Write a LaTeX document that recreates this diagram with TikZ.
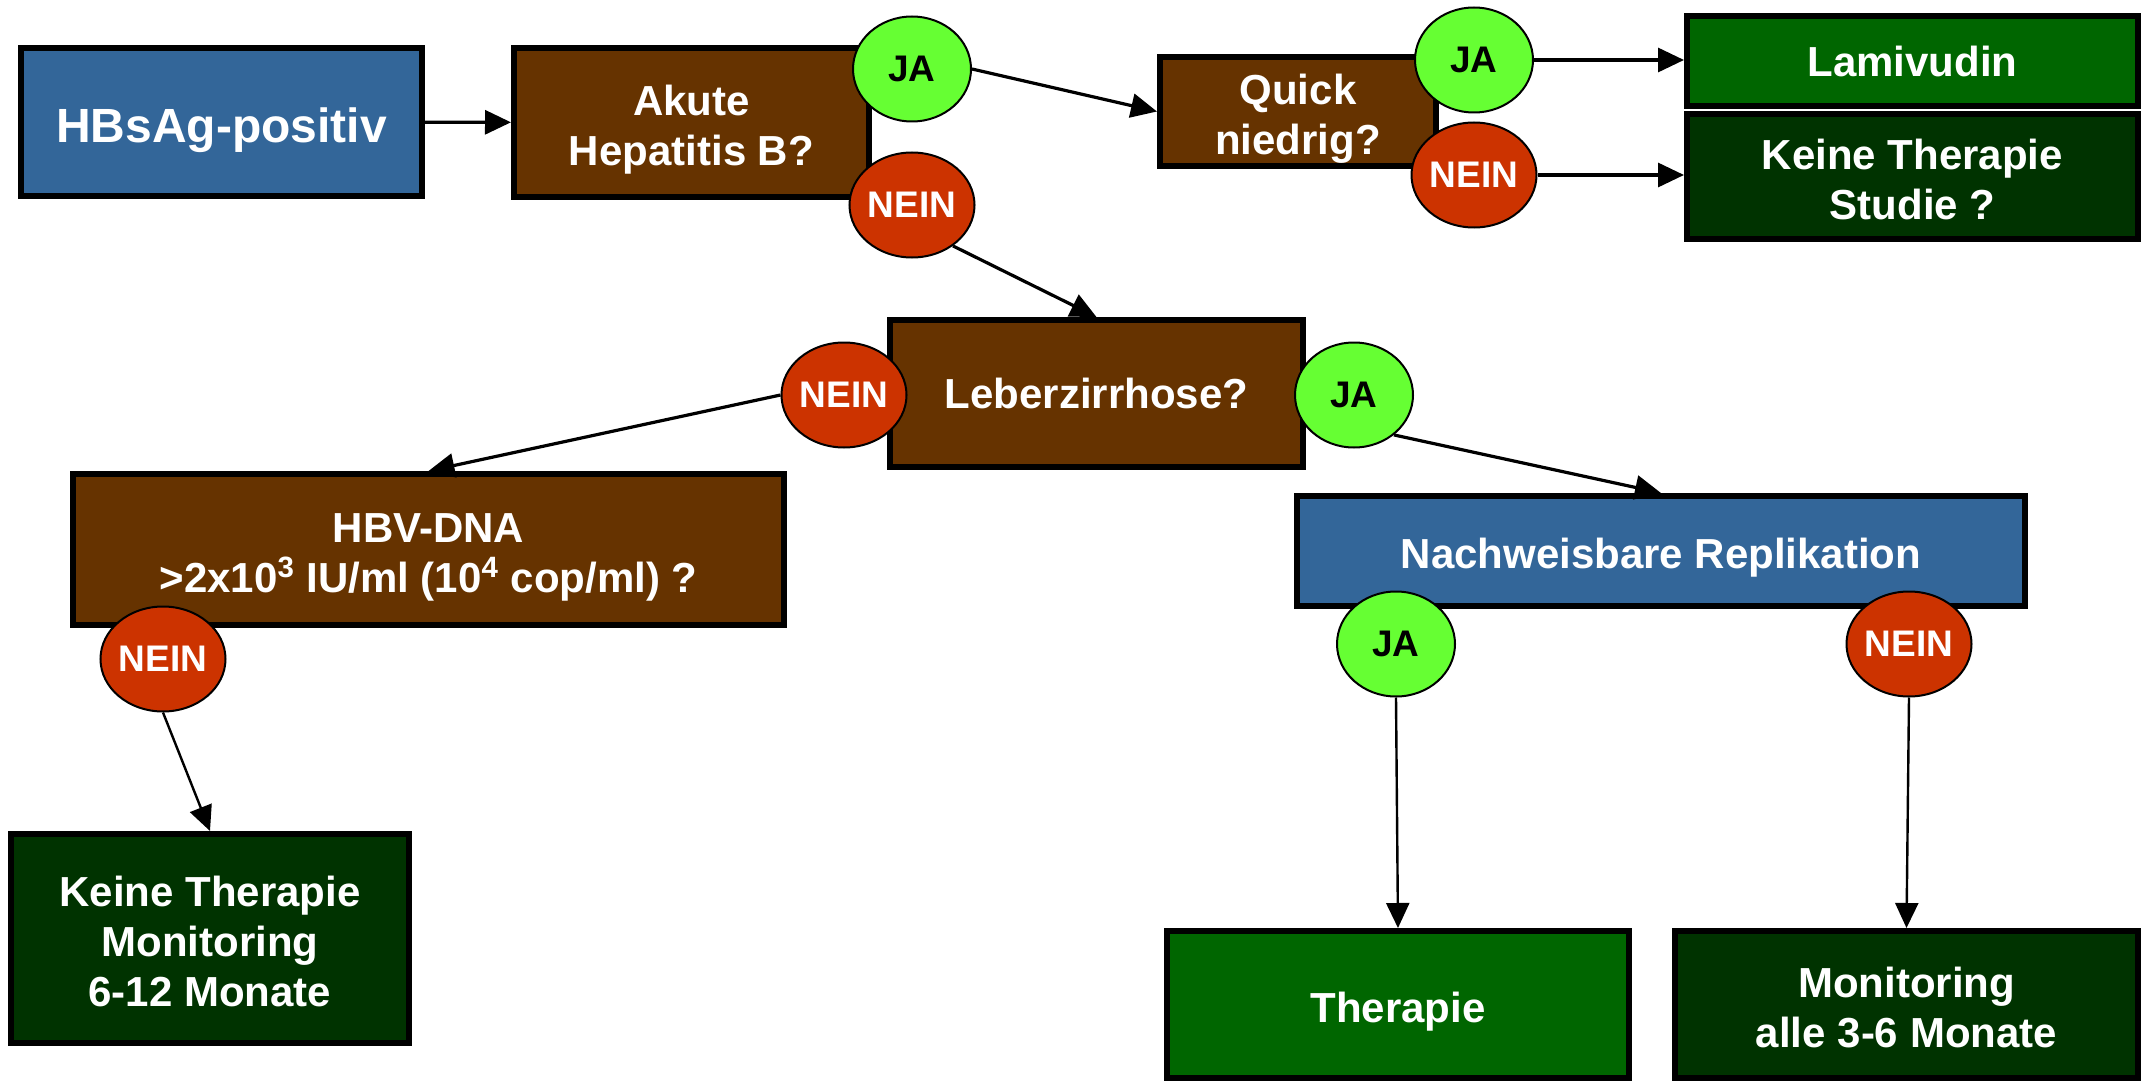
\documentclass[tikz,border=0pt]{standalone}
\usepackage{fontspec}
\setmainfont{Liberation Sans}
\usetikzlibrary{arrows.meta,shapes.geometric}
\definecolor{boxblue}{HTML}{336699}
\definecolor{boxbrown}{HTML}{663300}
\definecolor{boxgreen}{HTML}{006600}
\definecolor{boxdark}{HTML}{003300}
\definecolor{jagreen}{HTML}{66FF33}
\definecolor{neinred}{HTML}{CC3300}
% raise the first line's height so the text block sits a little lower
\newcommand\tallstrut{\rule{0pt}{1.05em}}
\newcommand\midstrut{\rule{0pt}{0.88em}}

\begin{document}
\begin{tikzpicture}[x=0.5pt,y=-0.5pt,
  box/.style={draw=black, line width=3pt, text=white, align=center, inner sep=0pt,
    font=\bfseries\fontsize{21}{25}\selectfont},
  yes/.style={ellipse, draw=black, line width=1pt, fill=jagreen, text=black, inner sep=0pt,
    minimum width=59pt, minimum height=52.5pt, font=\bfseries\fontsize{18.5}{22}\selectfont},
  no/.style={yes, fill=neinred, text=white},
  link/.style={line width=1.6pt, -{Triangle[length=13pt,width=12pt]}},
  drop/.style={line width=1.2pt, -{Triangle[length=12.5pt,width=11.5pt]}}]

\useasboundingbox (0,0) rectangle (2149,1081);
\fill[white] (0,0) rectangle (2149,1081);

% decision and result boxes
\node[box, fill=boxblue, minimum width=200.5pt, minimum height=74pt,
  font=\bfseries\fontsize{24}{28}\selectfont] (hbs) at (221.5,122) {\tallstrut HBsAg-positiv};
\node[box, fill=boxbrown, minimum width=177.5pt, minimum height=74.5pt] (akute) at (691.5,122.5) {\tallstrut Akute\\Hepatitis B?};
\node[box, fill=boxbrown, minimum width=138pt, minimum height=54.5pt] (quick) at (1298,111.5) {\tallstrut Quick\\niedrig?};
\node[box, fill=boxgreen, minimum width=225.5pt, minimum height=45pt] (lami) at (1912.5,61) {Lamivudin};
\node[box, fill=boxdark, minimum width=225.5pt, minimum height=62.5pt] (studie) at (1912.5,176.5) {\midstrut Keine Therapie\\Studie ?};
\node[box, fill=boxbrown, minimum width=206.5pt, minimum height=73.5pt] (leber) at (1096.5,393.5) {Leberzirrhose?};
\node[box, fill=boxbrown, minimum width=355.5pt, minimum height=75.5pt] (hbv) at (428.5,549.5)
  {\tallstrut HBV-DNA\\>2x10\textsuperscript{3} IU/ml (10\textsuperscript{4} cop/ml) ?};
\node[box, fill=boxdark, minimum width=199pt, minimum height=104.5pt] (keine) at (210,938.5)
  {\midstrut Keine Therapie\\Monitoring\\6-12 Monate};
\node[box, fill=boxblue, minimum width=364pt, minimum height=55pt] (repl) at (1661,551) {\tallstrut Nachweisbare Replikation};
\node[box, fill=boxgreen, minimum width=231pt, minimum height=73.5pt] (thera) at (1398,1004.5) {\tallstrut Therapie};
\node[box, fill=boxdark, minimum width=231.5pt, minimum height=73.5pt] (moni) at (1906.5,1004.5)
  {\midstrut Monitoring\\alle 3-6 Monate};

% answer markers
\node[yes] (ja1) at (912,69) {JA};
\node[no] (nein1) at (912,205) {NEIN};
\node[yes] (ja2) at (1474,60) {JA};
\node[no] (nein2) at (1474,175) {NEIN};
\node[no] (nein3) at (844,395) {NEIN};
\node[yes] (ja3) at (1354,395) {JA};
\node[no] (nein4) at (163,659) {NEIN};
\node[yes] (ja4) at (1396,644) {JA};
\node[no] (nein5) at (1909,644) {NEIN};

% connectors
\draw[link] (hbs) -- (akute);
\draw[link] (ja1.east) -- (quick.west);
\draw[link] (ja2) -- (lami.west |- ja2);
\draw[link] (nein2) -- (studie.west |- nein2);
\draw[link] (nein1.-45) -- (leber.north);
\draw[link] (nein3.west) -- (hbv.north);
\draw[link] (ja3.-45) -- (repl.north);
\draw[drop] (nein4.south) -- (keine.north);
\draw[drop] (ja4.south) -- (thera.north);
\draw[drop] (nein5.south) -- (moni.north);
\end{tikzpicture}
\end{document}
